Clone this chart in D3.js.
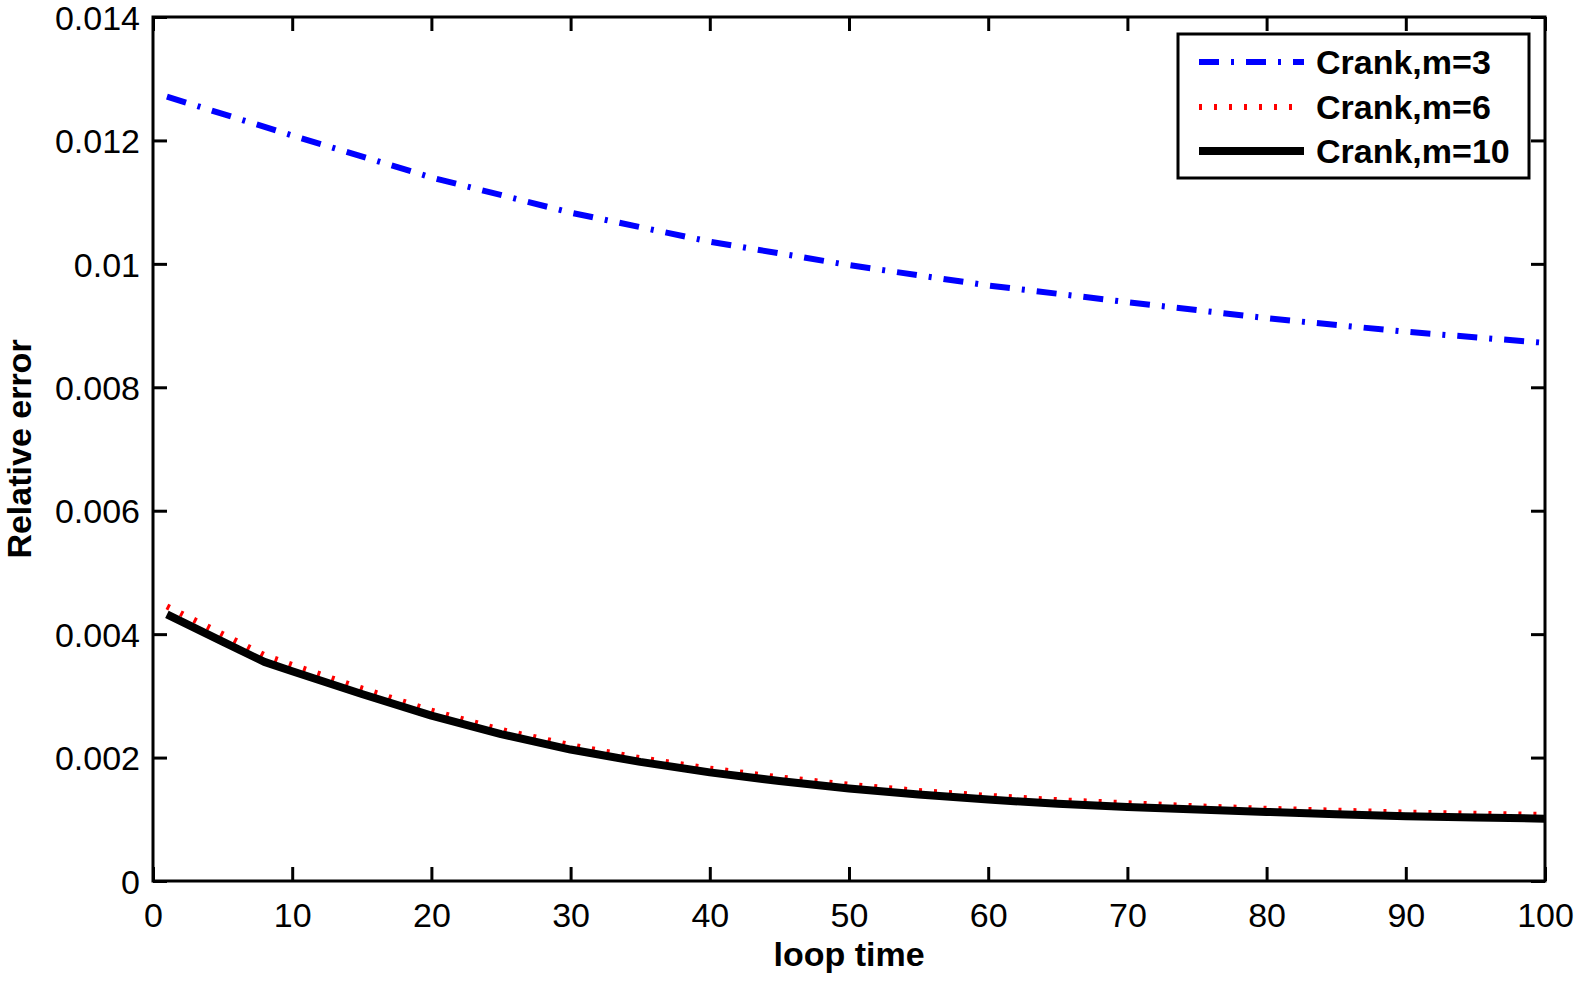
<!DOCTYPE html>
<html><head><meta charset="utf-8">
<script src="https://cdn.jsdelivr.net/npm/d3@7"></script>
<style>body{margin:0;background:#fff;} svg{display:block;} text{font-family:"Liberation Sans",Arial,sans-serif;}</style>
</head><body>
<svg id="chart" width="1575" height="981"></svg>
<script>
const xTicks = [0,10,20,30,40,50,60,70,80,90,100];
const yTicks = [0,0.002,0.004,0.006,0.008,0.01,0.012,0.014];
const yTickLabels = ["0","0.002","0.004","0.006","0.008","0.01","0.012","0.014"];

const xM3 = [1,10,20,30,40,50,60,70,80,90,100];
const m3 = [0.01271,0.01208,0.01140,0.01083,0.01036,0.00998,0.00965,0.00938,0.00912,0.00890,0.00872];

const xM = [1,5,8,10,15,20,25,30,35,40,45,50,55,60,65,70,75,80,85,90,95,100];
const m6 = [0.00445,0.00400,0.00366,0.00350,0.00312,0.00276,0.00245,0.00220,0.00199,0.00182,0.00168,0.00156,0.00146,0.00138,0.00131,0.00126,0.00121,0.00117,0.00114,0.00111,0.00109,0.00107];
const m10 = [0.00432,0.00388,0.00355,0.00340,0.00303,0.00268,0.00238,0.00213,0.00193,0.00176,0.00162,0.00150,0.00140,0.00132,0.00125,0.00120,0.00116,0.00112,0.00108,0.00105,0.00103,0.00101];

const seriesNames = ["Crank,m=3","Crank,m=6","Crank,m=10"];

const L = 153, R = 1545, T = 17, B = 881;
const svg = d3.select("#chart");
const x = d3.scaleLinear().domain([0,100]).range([L,R]);
const y = d3.scaleLinear().domain([0,0.014]).range([B,T]);

const styles = [
  {color:"#0000ff", width:6, dash:"20,12,3,12"},
  {color:"#ff0000", width:6, dash:"3,12"},
  {color:"#000000", width:8, dash:null}
];
const data = [
  xM3.map((v,i)=>[v,m3[i]]),
  xM.map((v,i)=>[v,m6[i]]),
  xM.map((v,i)=>[v,m10[i]])
];
const line = d3.line().x(d=>x(d[0])).y(d=>y(d[1]));

svg.append("clipPath").attr("id","clip").append("rect")
  .attr("x",L).attr("y",T).attr("width",R-L).attr("height",B-T);
const plot = svg.append("g").attr("clip-path","url(#clip)");
data.forEach((d,i)=>{
  plot.append("path").datum(d).attr("d",line).attr("fill","none")
    .attr("stroke",styles[i].color).attr("stroke-width",styles[i].width)
    .attr("stroke-dasharray",styles[i].dash).attr("stroke-linejoin","round");
});

// axes
const tickLen = 14;
const gB = svg.append("g").attr("transform",`translate(0,${B})`)
  .call(d3.axisBottom(x).tickValues(xTicks).tickSizeInner(-tickLen).tickSizeOuter(0).tickPadding(22).tickFormat(d3.format("d")));
const gT = svg.append("g").attr("transform",`translate(0,${T})`)
  .call(d3.axisTop(x).tickValues(xTicks).tickSizeInner(-tickLen).tickSizeOuter(0).tickFormat(""));
const gL = svg.append("g").attr("transform",`translate(${L},0)`)
  .call(d3.axisLeft(y).tickValues(yTicks).tickSizeInner(-tickLen).tickSizeOuter(0).tickPadding(13).tickFormat((d,i)=>yTickLabels[i]));
const gR = svg.append("g").attr("transform",`translate(${R},0)`)
  .call(d3.axisRight(y).tickValues(yTicks).tickSizeInner(-tickLen).tickSizeOuter(0).tickFormat(""));
[gB,gT,gL,gR].forEach(g=>{
  g.select(".domain").remove();
  g.selectAll(".tick line").attr("stroke","#000").attr("stroke-width",3);
  g.selectAll(".tick text").attr("fill","#000").style("font-size","34px").style("font-family","'Liberation Sans',Arial,sans-serif");
});
gL.selectAll(".tick text").attr("dy","0.36em");
svg.append("rect").attr("x",L).attr("y",T).attr("width",R-L).attr("height",B-T)
  .attr("fill","none").attr("stroke","#000").attr("stroke-width",3);

// axis titles
svg.append("text").attr("x",(L+R)/2).attr("y",966).attr("text-anchor","middle")
  .style("font-size","34px").style("font-weight","bold").text("loop time");
svg.append("text").attr("transform",`translate(31,${(T+B)/2}) rotate(-90)`).attr("text-anchor","middle")
  .style("font-size","34px").style("font-weight","bold").text("Relative error");

// legend
const lg = svg.append("g");
lg.append("rect").attr("x",1178).attr("y",34).attr("width",351).attr("height",144)
  .attr("fill","#fff").attr("stroke","#000").attr("stroke-width",3);
const rowsY = [62,107,151];
seriesNames.forEach((n,i)=>{
  lg.append("line").attr("x1",1199).attr("x2",1304).attr("y1",rowsY[i]).attr("y2",rowsY[i])
    .attr("stroke",styles[i].color).attr("stroke-width",styles[i].width)
    .attr("stroke-dasharray",styles[i].dash);
  lg.append("text").attr("x",1316).attr("y",rowsY[i]).attr("dy","0.36em")
    .style("font-size","34px").style("font-weight","bold").text(n);
});
</script>
</body></html>
